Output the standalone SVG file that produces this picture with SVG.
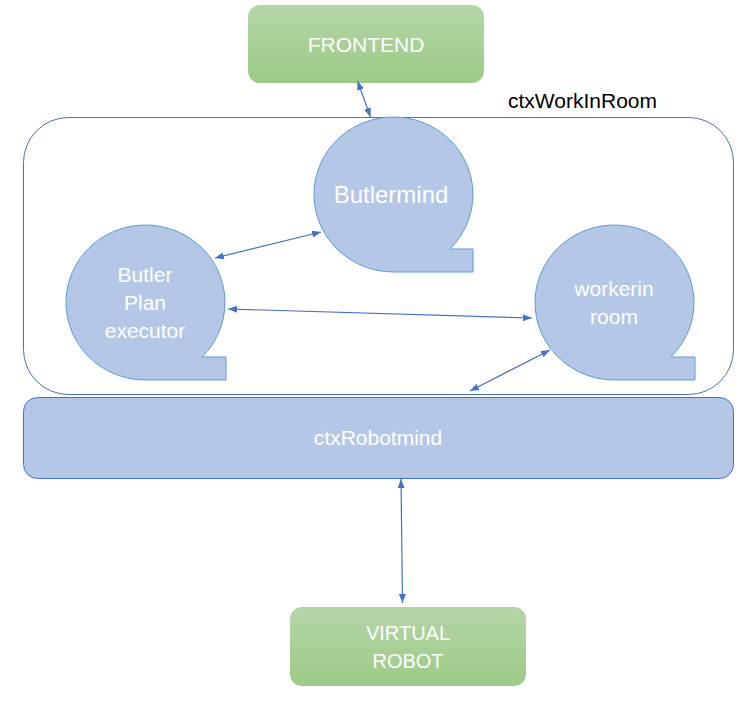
<svg xmlns="http://www.w3.org/2000/svg" width="754" height="704" viewBox="0 0 754 704">
  <defs>
    <linearGradient id="green" x1="0" y1="0" x2="0" y2="1">
      <stop offset="0" stop-color="#b5d5a7"/>
      <stop offset="1" stop-color="#9ccb87"/>
    </linearGradient>
    <marker id="ah" viewBox="0 0 10 10" refX="10" refY="5" markerWidth="9" markerHeight="7" markerUnits="userSpaceOnUse" orient="auto-start-reverse" preserveAspectRatio="none">
      <path d="M0,0 L10,5 L0,10 Z" fill="#4472c4"/>
    </marker>
    <style>
      .green { fill: url(#green); }
      .bubble { fill: #b4c7e7; stroke: #5b9bd5; stroke-width: 1; }
      .label { font-family: "Liberation Sans", Arial, sans-serif; fill: #ffffff; text-anchor: middle; }
      .conn { stroke: #4472c4; stroke-width: 1.2; fill: none; marker-start: url(#ah); marker-end: url(#ah); }
    </style>
  </defs>
  <rect width="754" height="704" fill="#ffffff"/>

  <g id="ctxWorkInRoom">
    <rect x="23.5" y="117.5" width="710" height="277" rx="45" ry="45" fill="none" stroke="#4472c4" stroke-width="1"/>
    <text x="508" y="108" font-family="Liberation Sans, Arial, sans-serif" font-size="21" fill="#000000">ctxWorkInRoom</text>
  </g>

  <g id="frontend">
    <rect class="green" x="248" y="5" width="236" height="78" rx="12" ry="12"/>
    <text class="label" x="366" y="52" font-size="21">FRONTEND</text>
  </g>

  <g id="butlermind">
    <path class="bubble" d="M393.5,272 A79.5,77.5 0 1 1 450,249 L473,249 L473,272 Z"/>
    <text class="label" x="391" y="203" font-size="24">Butlermind</text>
  </g>

  <g id="butlerPlanExecutor">
    <path class="bubble" d="M145.5,380 A79.5,77.5 0 1 1 202,357 L226,357 L226,380 Z"/>
    <text class="label" x="145" y="282" font-size="21">Butler</text>
    <text class="label" x="145" y="310" font-size="21">Plan</text>
    <text class="label" x="145" y="338" font-size="21">executor</text>
  </g>

  <g id="workerinRoom">
    <path class="bubble" d="M614.5,380 A79.5,77.5 0 1 1 671,357 L695,357 L695,380 Z"/>
    <text class="label" x="614" y="296" font-size="21">workerin</text>
    <text class="label" x="614" y="324" font-size="21">room</text>
  </g>

  <g id="ctxRobotmind">
    <rect x="23.5" y="397.5" width="710" height="81" rx="14" ry="14" fill="#b4c7e7" stroke="#4472c4" stroke-width="1"/>
    <text class="label" x="378" y="445" font-size="21">ctxRobotmind</text>
  </g>

  <g id="virtualRobot">
    <rect class="green" x="290" y="607" width="236" height="79" rx="12" ry="12"/>
    <text class="label" x="408" y="640" font-size="20">VIRTUAL</text>
    <text class="label" x="408" y="668" font-size="20">ROBOT</text>
  </g>

  <g id="connectors">
    <line class="conn" x1="357.5" y1="81" x2="370.5" y2="117"/>
    <line class="conn" x1="215" y1="258" x2="321" y2="232"/>
    <line class="conn" x1="228" y1="309" x2="532" y2="318"/>
    <line class="conn" x1="550" y1="350" x2="470" y2="391"/>
    <line class="conn" x1="401" y1="479" x2="402.5" y2="603"/>
  </g>
</svg>
